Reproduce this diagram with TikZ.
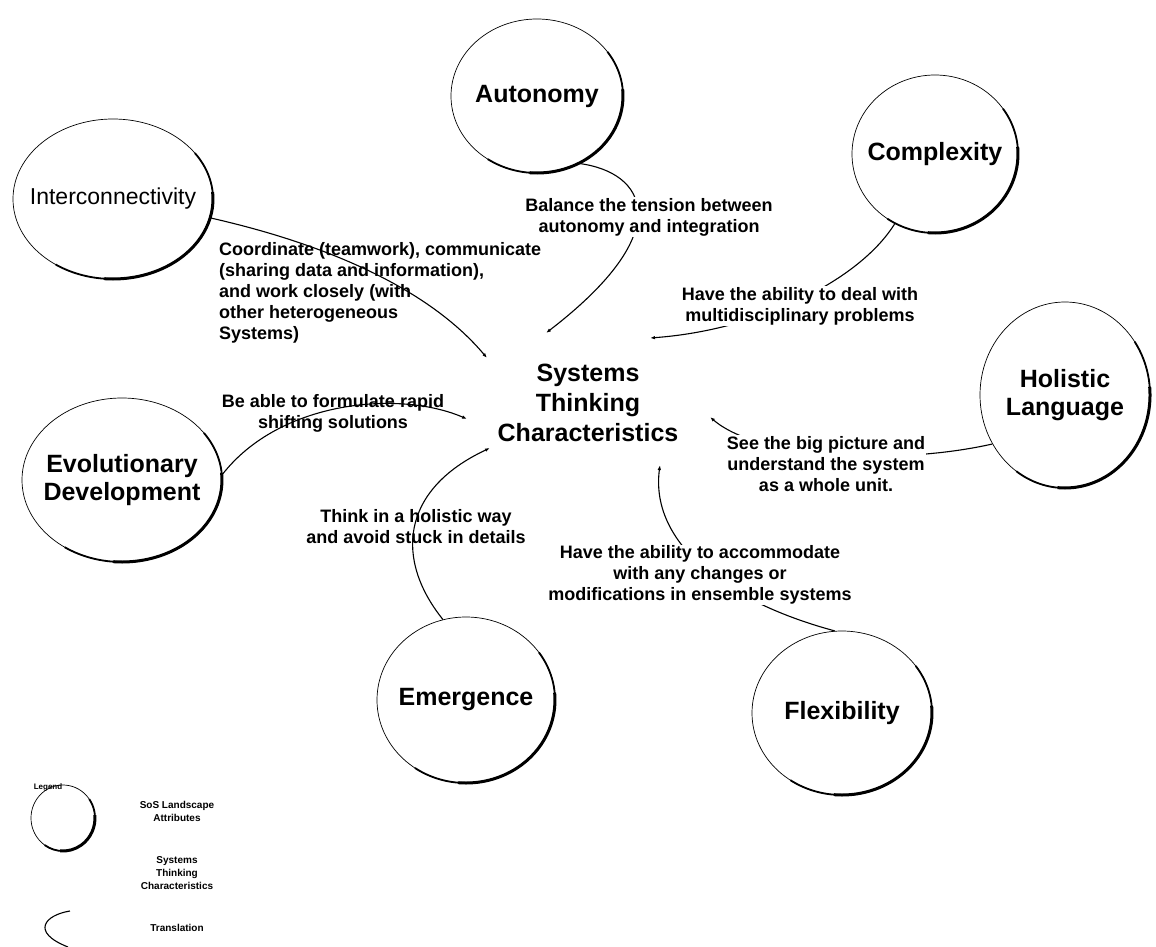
\documentclass[tikz,border=0pt]{standalone}
\usepackage{fontspec}
\setmainfont{Liberation Sans}
\usetikzlibrary{arrows.meta,shapes.geometric}
% thick lower-right rim of an attribute ellipse: {node}{x radius}{y radius}
\newcommand{\sosrim}[3]{%
  \draw[line width=1.8pt] ([shift={(35:#2 and #3)}]#1.center) arc[start angle=35, end angle=-125, x radius=#2, y radius=#3];
  \draw[line width=3pt] ([shift={(5:#2 and #3)}]#1.center) arc[start angle=5, end angle=-95, x radius=#2, y radius=#3];}

\begin{document}
\begin{tikzpicture}[x=1pt, y=1pt,
  sos/.style={ellipse, draw=black, line width=0.7pt, inner sep=0pt},
  sostext/.style={font=\fontsize{25}{28}\selectfont\bfseries, align=center},
  trans/.style={font=\fontsize{18}{21}\selectfont\bfseries, align=center, inner sep=1pt},
  legtext/.style={font=\fontsize{10}{13}\selectfont\bfseries, align=center},
  link/.style={line width=1.1pt, -{Latex[length=5pt,width=3.5pt]}}]
\useasboundingbox (0,0) rectangle (1156,-947);
% attributes
\node[sos, minimum width=172pt, minimum height=154pt, label={[sostext]center:Autonomy}] (auto) at (537,-96) {};
\node[sos, minimum width=166pt, minimum height=158pt, label={[sostext]center:Complexity}] (cpx) at (935,-154) {};
\node[sos, minimum width=200pt, minimum height=160pt, label={[font=\fontsize{23}{26}\selectfont]center:Interconnectivity}] (inter) at (113,-199) {};
\node[sos, minimum width=170pt, minimum height=186pt, label={[sostext]center:Holistic\\Language}] (hol) at (1065,-395) {};
\node[sos, minimum width=200pt, minimum height=164pt, label={[sostext]center:Evolutionary\\Development}] (evo) at (122,-480) {};
\node[sos, minimum width=178pt, minimum height=166pt, label={[sostext]center:Emergence}] (emg) at (466,-700) {};
\node[sos, minimum width=180pt, minimum height=164pt, label={[sostext]center:Flexibility}] (flex) at (842,-713) {};
\sosrim{auto}{86pt}{77pt}
\sosrim{cpx}{83pt}{79pt}
\sosrim{inter}{100pt}{80pt}
\sosrim{hol}{85pt}{93pt}
\sosrim{evo}{100pt}{82pt}
\sosrim{emg}{89pt}{83pt}
\sosrim{flex}{90pt}{82pt}

% systems thinking
\node[font=\fontsize{25}{30}\selectfont\bfseries, align=center] (stc) at (588,-403) {Systems\\Thinking\\Characteristics};
\coordinate (endauto) at (546,-333);
\coordinate (endcpx) at (650,-338);
\coordinate (endinter) at (487,-358);
\coordinate (endevo) at (467,-419);
\coordinate (endhol) at (710,-417);
\coordinate (endemg) at (490,-448);
\coordinate (endflex) at (660,-465);

% translations
\draw[link] (auto.-58) .. controls (645,-172) and (680,-230) .. (endauto);
\draw[link] (cpx.-120) .. controls (860,-280) and (760,-330) .. (endcpx);
\draw[link] (inter.-11) .. controls (330,-245) and (430,-290) .. (endinter);
\draw[link] (evo.3) .. controls (280,-400) and (400,-390) .. (endevo);
\draw[link] (hol.-146) .. controls (900,-465) and (760,-460) .. (endhol);
\draw[link] (emg.106) .. controls (395,-560) and (400,-490) .. (endemg);
\draw[link] (flex.95) .. controls (720,-600) and (650,-540) .. (endflex);

\node[trans, fill=white] (tauto) at (649,-217) {Balance the tension between\\autonomy and integration};
\node[trans, fill=white] (tcpx) at (800,-306) {Have the ability to deal with\\multidisciplinary problems};
\node[trans, align=left, anchor=west] (tinter) at (218,-293) {Coordinate (teamwork), communicate\\(sharing data and information),\\and work closely (with\\other heterogeneous\\Systems)};
\node[trans] (tevo) at (333,-413) {Be able to formulate rapid\\shifting solutions};
\node[trans, fill=white] (thol) at (826,-464) {See the big picture and\\understand the system\\as a whole unit.};
\node[trans] (temg) at (416,-527) {Think in a holistic way\\and avoid stuck in details};
\node[trans, fill=white] (tflex) at (700,-575) {Have the ability to accommodate\\with any changes or\\modifications in ensemble systems};

% legend
\node[font=\fontsize{8}{9}\selectfont\bfseries] (legend) at (48,-787) {Legend};
\node[sos, minimum width=64pt, minimum height=66pt] (legcirc) at (63,-818) {};
\sosrim{legcirc}{32pt}{33pt}
\node[legtext] (legsos) at (177,-811) {SoS Landscape\\Attributes};
\node[legtext] (legstc) at (177,-873) {Systems\\Thinking\\Characteristics};
\coordinate (legtop) at (70,-911);
\coordinate (legbot) at (68,-947);
\draw[line width=1.1pt] (legtop) .. controls (45,-915) and (30,-932) .. (legbot);
\node[legtext] (legtr) at (177,-928) {Translation};
\end{tikzpicture}
\end{document}
